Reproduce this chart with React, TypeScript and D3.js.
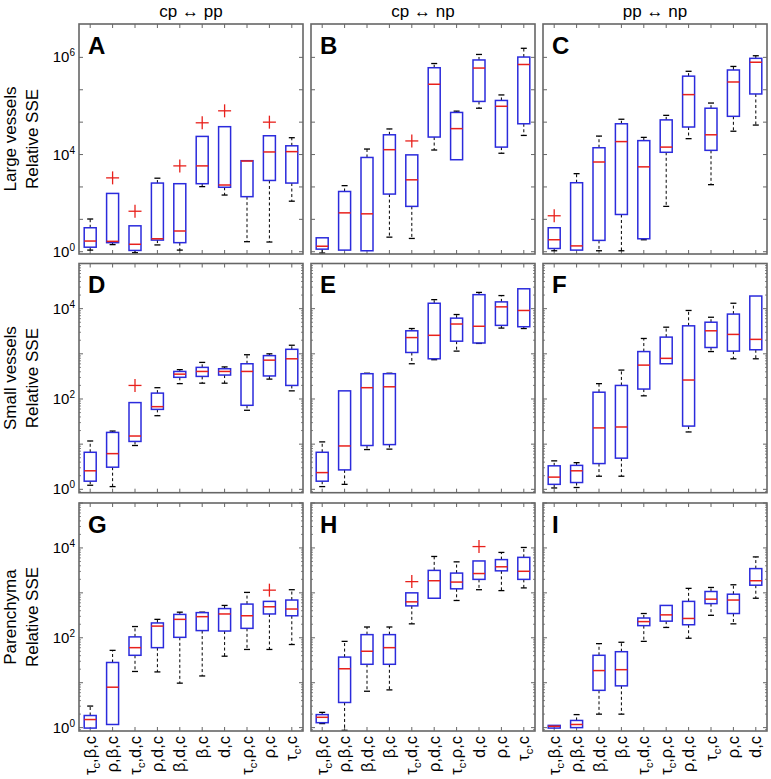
import React from "react";
import * as d3 from "d3";

// ---------- texts ----------
const columnTitles = ["cp \u2194 pp", "cp \u2194 np", "pp \u2194 np"];
const rowTitles = ["Large vessels", "Small vessels", "Parenchyma"];
const yAxisTitle = "Relative SSE";
const panelLetters = ["A", "B", "C", "D", "E", "F", "G", "H", "I"];

// x labels of the bottom row (the "τc" means τ with subscript c)
const labelsG = ["τc,β,c", "ρ,β,c", "τc,d,c", "ρ,d,c", "β,d,c", "β,c", "d,c", "τc,ρ,c", "ρ,c", "τc,c"];
const labelsH = ["τc,β,c", "ρ,β,c", "β,d,c", "β,c", "τc,d,c", "ρ,d,c", "τc,ρ,c", "d,c", "ρ,c", "τc,c"];
const labelsI = ["τc,β,c", "ρ,β,c", "β,d,c", "β,c", "τc,d,c", "τc,ρ,c", "ρ,d,c", "τc,c", "ρ,c", "d,c"];

// y tick labels per row: [tick exponent position, label exponent]
const row1Ticks = [[0, "0"], [3, "4"], [6, "6"]];
const row23Ticks = [[0, "0"], [2, "2"], [4, "4"]];

// ---------- data: log10 of Relative SSE ----------
// each box: [whiskerLow, q1, median, q3, whiskerHigh, outliers]
const boxesA = [
  [0.05, 0.14, 0.33, 0.74, 1.01, []],
  [0.22, 0.28, 0.32, 1.8, 1.8, [2.28]],
  [-0.03, 0.04, 0.23, 0.8, 0.8, [1.25]],
  [0.21, 0.36, 0.4, 2.12, 2.27, []],
  [0.05, 0.28, 0.64, 2.1, 2.1, [2.65]],
  [2.01, 2.1, 2.65, 3.56, 3.56, [3.98]],
  [1.75, 1.99, 2.06, 3.86, 3.86, [4.35]],
  [0.31, 1.7, 2.8, 2.81, 2.81, []],
  [0.3, 2.2, 3.08, 3.58, 3.58, [4.0]],
  [1.56, 2.12, 3.09, 3.27, 3.52, []],
];
const boxesB = [
  [-0.04, 0.08, 0.17, 0.43, 0.43, []],
  [0.05, 0.05, 1.2, 1.86, 2.04, []],
  [0.03, 0.03, 1.17, 2.91, 3.17, []],
  [0.45, 1.78, 3.15, 3.61, 3.79, []],
  [0.41, 1.4, 2.22, 2.99, 2.99, [3.42]],
  [3.14, 3.54, 5.17, 5.68, 5.81, []],
  [2.84, 2.84, 3.8, 4.3, 4.34, []],
  [4.43, 4.64, 5.67, 5.92, 6.09, []],
  [3.04, 3.23, 4.49, 4.67, 4.84, []],
  [3.59, 3.95, 5.78, 6.01, 6.28, []],
];
const boxesC = [
  [0.03, 0.1, 0.37, 0.74, 0.74, [1.11]],
  [0.05, 0.05, 0.18, 2.13, 2.41, []],
  [0.03, 0.35, 2.77, 3.21, 3.57, []],
  [0.03, 1.15, 3.4, 3.95, 4.09, []],
  [0.37, 0.4, 2.62, 3.43, 3.53, []],
  [1.4, 3.07, 3.23, 4.07, 4.21, []],
  [3.49, 3.85, 4.85, 5.42, 5.57, []],
  [2.07, 3.13, 3.61, 4.43, 4.59, []],
  [3.72, 4.18, 5.24, 5.61, 5.72, []],
  [3.91, 4.87, 5.85, 5.97, 6.05, []],
];
const boxesD = [
  [0.09, 0.18, 0.41, 0.82, 1.07, []],
  [0.06, 0.49, 0.79, 1.26, 1.29, []],
  [0.97, 1.06, 1.18, 1.92, 1.92, [2.3]],
  [1.63, 1.77, 1.83, 2.13, 2.25, []],
  [2.34, 2.48, 2.55, 2.61, 2.65, []],
  [2.35, 2.5, 2.61, 2.7, 2.81, []],
  [2.35, 2.53, 2.61, 2.67, 2.71, []],
  [1.75, 1.86, 2.61, 2.78, 2.98, []],
  [2.44, 2.51, 2.86, 2.96, 3.0, []],
  [2.18, 2.3, 2.89, 3.1, 3.19, []],
];
const boxesE = [
  [0.06, 0.18, 0.37, 0.82, 1.05, []],
  [0.11, 0.43, 0.96, 2.18, 2.18, []],
  [0.88, 0.97, 2.25, 2.56, 2.57, []],
  [0.89, 0.99, 2.27, 2.56, 2.57, []],
  [2.78, 3.03, 3.36, 3.51, 3.56, []],
  [2.87, 2.89, 3.41, 4.12, 4.2, []],
  [3.06, 3.28, 3.66, 3.79, 3.87, []],
  [3.23, 3.24, 3.61, 4.31, 4.36, []],
  [3.57, 3.63, 4.04, 4.15, 4.29, []],
  [3.56, 3.6, 3.96, 4.44, 4.44, []],
];
const boxesF = [
  [0.03, 0.11, 0.27, 0.52, 0.63, []],
  [0.04, 0.15, 0.41, 0.53, 0.59, []],
  [0.29, 0.57, 1.36, 2.15, 2.34, []],
  [0.29, 0.69, 1.38, 2.3, 2.64, []],
  [2.07, 2.22, 2.75, 3.05, 3.34, []],
  [2.78, 2.78, 2.9, 3.37, 3.59, []],
  [1.27, 1.4, 2.42, 3.62, 3.96, []],
  [3.05, 3.14, 3.51, 3.7, 3.81, []],
  [2.89, 3.06, 3.43, 3.88, 4.12, []],
  [2.89, 3.09, 3.32, 4.28, 4.28, []],
];
const boxesG = [
  [-0.01, -0.01, 0.18, 0.27, 0.48, []],
  [0.07, 0.07, 0.9, 1.45, 1.72, []],
  [1.25, 1.61, 1.78, 2.02, 2.25, []],
  [1.24, 1.78, 2.26, 2.33, 2.41, []],
  [0.99, 2.01, 2.41, 2.52, 2.57, []],
  [1.15, 2.16, 2.47, 2.56, 2.57, []],
  [1.59, 2.15, 2.53, 2.65, 2.72, []],
  [1.74, 2.21, 2.49, 2.75, 3.01, []],
  [1.74, 2.53, 2.69, 2.81, 2.81, [3.06]],
  [1.85, 2.49, 2.64, 2.84, 3.07, []],
];
const boxesH = [
  [0.09, 0.11, 0.23, 0.29, 0.34, []],
  [-0.06, 0.56, 1.31, 1.57, 1.92, []],
  [0.81, 1.41, 1.7, 2.07, 2.24, []],
  [0.84, 1.41, 1.78, 2.07, 2.24, []],
  [2.31, 2.71, 2.8, 3.0, 3.0, [3.25]],
  [2.88, 2.88, 3.27, 3.5, 3.81, []],
  [2.83, 3.09, 3.24, 3.44, 3.69, []],
  [3.07, 3.3, 3.43, 3.71, 3.71, [4.03]],
  [3.05, 3.49, 3.58, 3.74, 3.9, []],
  [3.11, 3.3, 3.48, 3.79, 4.01, []],
];
const boxesI = [
  [-0.01, -0.01, 0.03, 0.05, 0.05, []],
  [0.0, 0.0, 0.07, 0.16, 0.29, []],
  [0.3, 0.83, 1.27, 1.61, 1.87, []],
  [0.3, 0.93, 1.29, 1.69, 1.9, []],
  [1.92, 2.27, 2.36, 2.44, 2.54, []],
  [2.23, 2.37, 2.51, 2.72, 2.72, []],
  [1.99, 2.29, 2.43, 2.81, 3.1, []],
  [2.5, 2.76, 2.86, 3.03, 3.12, []],
  [2.31, 2.54, 2.84, 2.97, 3.18, []],
  [2.88, 3.17, 3.27, 3.54, 3.8, []],
];

const panelBoxes = [boxesA, boxesB, boxesC, boxesD, boxesE, boxesF, boxesG, boxesH, boxesI];
const bottomLabels = [labelsG, labelsH, labelsI];

// ---------- layout ----------
const W = 771;
const H = 779;
const colX = [79, 311, 543];
const panelW = 224;
const rowY = [24, 263.5, 503];
const rowH = [230, 229.2, 228];
const rowExp = [
  [-0.07, 7.03],
  [-0.075, 5],
  [-0.075, 5],
];
const FONT = "'Liberation Sans', Arial, Helvetica, sans-serif";
const BOX_COLOR = "#2b2bdc";
const MED_COLOR = "#e8211c";
const FRAME_COLOR = "#666666";

function LabelText({ s }: { s: string }) {
  const parts: React.ReactNode[] = [];
  let i = 0;
  let k = 0;
  let buf = "";
  let lowered = false;
  while (i < s.length) {
    const ch = s[i];
    if (ch === "τ" && s[i + 1] === "c") {
      if (buf) {
        parts.push(<tspan key={k++} dy={lowered ? -4 : 0}>{buf}</tspan>);
        lowered = false;
      }
      buf = "";
      parts.push(<tspan key={k++} dy={lowered ? -4 : 0}>τ</tspan>);
      parts.push(<tspan key={k++} dy={4} fontSize={11}>c</tspan>);
      lowered = true;
      i += 2;
      continue;
    }
    buf += ch;
    i++;
  }
  if (buf) parts.push(<tspan key={k++} dy={lowered ? -4 : 0}>{buf}</tspan>);
  return <>{parts}</>;
}

function Panel({ idx }: { idx: number }) {
  const r = Math.floor(idx / 3);
  const c = idx % 3;
  const x0 = colX[c];
  const y0 = rowY[r];
  const h = rowH[r];
  const [e0, e1] = rowExp[r];
  const y = d3.scaleLog().domain([10 ** e0, 10 ** e1]).range([y0 + h, y0]);
  const boxes = panelBoxes[idx];
  const x = d3
    .scaleBand<number>()
    .domain(d3.range(boxes.length))
    .range([x0, x0 + panelW]);
  const bw = 12;
  const capW = 6;

  const majorExps = r === 0 ? d3.range(0, 7) : d3.range(0, 6);
  const minorVals: number[] = [];
  if (r > 0) {
    for (let e = -1; e < 5; e++) {
      for (let m = 2; m <= 9; m++) {
        const v = m * 10 ** e;
        if (v > 10 ** e0 && v < 10 ** e1) minorVals.push(v);
      }
    }
  }
  const ticks = r === 0 ? row1Ticks : row23Ticks;

  return (
    <g>
      {majorExps.map((e) => (
        <g key={"mj" + e}>
          <line x1={x0} x2={x0 + 4} y1={y(10 ** e)} y2={y(10 ** e)} stroke={FRAME_COLOR} strokeWidth={1} />
          <line x1={x0 + panelW} x2={x0 + panelW - 4} y1={y(10 ** e)} y2={y(10 ** e)} stroke={FRAME_COLOR} strokeWidth={1} />
        </g>
      ))}
      {minorVals.map((v, i) => (
        <g key={"mn" + i}>
          <line x1={x0} x2={x0 + 2} y1={y(v)} y2={y(v)} stroke={FRAME_COLOR} strokeWidth={0.8} />
          <line x1={x0 + panelW} x2={x0 + panelW - 2} y1={y(v)} y2={y(v)} stroke={FRAME_COLOR} strokeWidth={0.8} />
        </g>
      ))}
      {boxes.map((_, i) => {
        const cx = (x(i) as number) + x.bandwidth() / 2;
        return (
          <g key={"xt" + i}>
            <line x1={cx} x2={cx} y1={y0} y2={y0 + 4} stroke={FRAME_COLOR} strokeWidth={1} />
            <line x1={cx} x2={cx} y1={y0 + h} y2={y0 + h - 4} stroke={FRAME_COLOR} strokeWidth={1} />
          </g>
        );
      })}
      {c === 0 &&
        ticks.map(([e, lab]) => (
          <text
            key={"yl" + e}
            x={x0 - 4}
            y={y(10 ** (e as number)) + 5}
            textAnchor="end"
            fontFamily={FONT}
            fontSize={15}
            fill="#000"
          >
            10
            <tspan dy={-6} fontSize={10}>
              {lab}
            </tspan>
          </text>
        ))}
      {boxes.map((b, i) => {
        const [lo, q1, med, q3, hi, outs] = b as [number, number, number, number, number, number[]];
        const cx = (x(i) as number) + x.bandwidth() / 2;
        const yq1 = y(10 ** q1);
        const yq3 = y(10 ** q3);
        return (
          <g key={"b" + i}>
            {hi > q3 && (
              <>
                <line x1={cx} x2={cx} y1={yq3} y2={y(10 ** hi)} stroke="#000" strokeWidth={1} strokeDasharray="3,2.5" />
                <line x1={cx - capW / 2} x2={cx + capW / 2} y1={y(10 ** hi)} y2={y(10 ** hi)} stroke="#000" strokeWidth={1.3} />
              </>
            )}
            {lo < q1 && (
              <>
                <line x1={cx} x2={cx} y1={yq1} y2={y(10 ** lo)} stroke="#000" strokeWidth={1} strokeDasharray="3,2.5" />
                <line x1={cx - capW / 2} x2={cx + capW / 2} y1={y(10 ** lo)} y2={y(10 ** lo)} stroke="#000" strokeWidth={1.3} />
              </>
            )}
            <rect
              x={cx - bw / 2}
              y={yq3}
              width={bw}
              height={Math.max(1, yq1 - yq3)}
              fill="none"
              stroke={BOX_COLOR}
              strokeWidth={1.5}
            />
            <line x1={cx - bw / 2} x2={cx + bw / 2} y1={y(10 ** med)} y2={y(10 ** med)} stroke={MED_COLOR} strokeWidth={1.5} />
            {outs.map((o, j) => {
              const oy = y(10 ** o);
              return (
                <g key={"o" + j} stroke={MED_COLOR} strokeWidth={1.3}>
                  <line x1={cx - 6.5} x2={cx + 6.5} y1={oy} y2={oy} />
                  <line x1={cx} x2={cx} y1={oy - 6.5} y2={oy + 6.5} />
                </g>
              );
            })}
          </g>
        );
      })}
      <rect x={x0} y={y0} width={panelW} height={h} fill="none" stroke={FRAME_COLOR} strokeWidth={1.6} />
      <text x={x0 + 9} y={y0 + 29.5} fontFamily={FONT} fontWeight="bold" fontSize={24} fill="#000">
        {panelLetters[idx]}
      </text>
      {r === 2 &&
        bottomLabels[c].map((lab, i) => {
          const cx = (x(i) as number) + x.bandwidth() / 2;
          return (
            <text
              key={"xl" + i}
              transform={`translate(${cx + 5.5},${y0 + h + 5}) rotate(-90)`}
              textAnchor="end"
              fontFamily={FONT}
              fontSize={16.5}
              fill="#000"
            >
              <LabelText s={lab} />
            </text>
          );
        })}
    </g>
  );
}

export default function App() {
  return (
    <svg
      width={W}
      height={H}
      viewBox={`0 0 ${W} ${H}`}
      style={{ position: "absolute", left: 0, top: 0, background: "#fff" }}
    >
      <rect x={0} y={0} width={W} height={H} fill="#fff" />
      {columnTitles.map((t, c) => (
        <text
          key={"ct" + c}
          x={colX[c] + panelW / 2}
          y={17}
          textAnchor="middle"
          fontFamily={FONT}
          fontSize={17}
          fill="#000"
        >
          {t}
        </text>
      ))}
      {rowTitles.map((t, r) => {
        const cy = rowY[r] + rowH[r] / 2;
        return (
          <g key={"rt" + r}>
            <text transform={`translate(16,${cy}) rotate(-90)`} textAnchor="middle" fontFamily={FONT} fontSize={17} fill="#000">
              {t}
            </text>
            <text transform={`translate(38,${cy}) rotate(-90)`} textAnchor="middle" fontFamily={FONT} fontSize={17} fill="#000">
              {yAxisTitle}
            </text>
          </g>
        );
      })}
      {d3.range(9).map((i) => (
        <Panel key={i} idx={i} />
      ))}
    </svg>
  );
}
